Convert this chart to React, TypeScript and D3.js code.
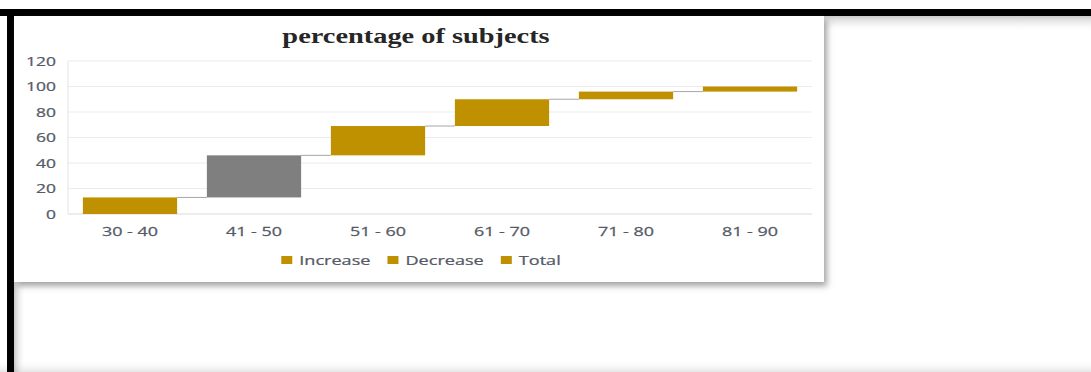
import React from "react";
import * as d3 from "d3";

// Age bands and the share of subjects each band adds to the running total
const categories: string[] = ["30 - 40", "41 - 50", "51 - 60", "61 - 70", "71 - 80", "81 - 90"];
const increments: number[] = [13, 33, 23, 21, 6, 4];
const yTicks: number[] = [0, 20, 40, 60, 80, 100, 120];
const legendLabels: string[] = ["Increase", "Decrease", "Total"];
const highlightedCategory = "41 - 50";
const chartTitle = "percentage of subjects";

const W = 1091;
const H = 372;
const GOLD = "#BF9000";
const GREY = "#7F7F7F";
const TEXT = "#555a66";
const SANS = "'Open Sans', 'Noto Sans', sans-serif";
const SERIF = "'Liberation Serif', 'DejaVu Serif', serif";
const STRETCH = 1.34;

const panel = { x: 14, y: 16, w: 810, h: 266 };
const plot = { left: 68, right: 812, top: 61, bottom: 214 };

function textWidth(text: string, font: string): number {
  const ctx = document.createElement("canvas").getContext("2d");
  if (!ctx) return text.length * 7;
  ctx.font = font;
  return ctx.measureText(text).width;
}

export default function App() {
  const x = d3.scaleBand<string>().domain(categories).range([plot.left, plot.right]).paddingInner(0.24).paddingOuter(0.12);
  const y = d3.scaleLinear().domain([0, 120]).range([plot.bottom, plot.top]);

  // running totals give each floating bar its base and top
  const tops = d3.cumsum(increments);
  const bars = categories.map((c, i) => ({
    cat: c,
    base: i === 0 ? 0 : tops[i - 1],
    top: tops[i],
  }));

  // legend laid out centred under the panel
  const legendFont = `13.5px ${SANS}`;
  const sq = 11;
  const gapSq = 7;
  const gapItem = 17;
  const items = legendLabels.map((l) => ({ label: l, w: textWidth(l, legendFont) * STRETCH }));
  const totalW = d3.sum(items, (d) => sq + gapSq + d.w) + gapItem * (items.length - 1);
  let cursor = panel.x + panel.w / 2 - totalW / 2 + 2;
  const legendItems = items.map((d) => {
    const start = cursor;
    cursor += sq + gapSq + d.w + gapItem;
    return { ...d, x: start };
  });
  const legendY = 260;

  return (
    <svg width={W} height={H} style={{ position: "absolute", left: 0, top: 0, background: "#fff" }}>
      <defs>
        <filter id="panelShadow" x="-5%" y="-5%" width="115%" height="125%">
          <feDropShadow dx="3" dy="4" stdDeviation="3" floodColor="#555" floodOpacity="0.55" />
        </filter>
        <linearGradient id="topShade" x1="0" y1="0" x2="0" y2="1">
          <stop offset="0" stopColor="#a0a0a0" stopOpacity="0.55" />
          <stop offset="1" stopColor="#ffffff" stopOpacity="0" />
        </linearGradient>
        <linearGradient id="leftShade" x1="0" y1="0" x2="1" y2="0">
          <stop offset="0" stopColor="#9a9a9a" stopOpacity="0.55" />
          <stop offset="1" stopColor="#ffffff" stopOpacity="0" />
        </linearGradient>
        <linearGradient id="bottomShade" x1="0" y1="0" x2="0" y2="1">
          <stop offset="0" stopColor="#ffffff" stopOpacity="0" />
          <stop offset="1" stopColor="#e6e6e6" stopOpacity="1" />
        </linearGradient>
      </defs>

      {/* frame */}
      <rect x={0} y={360} width={W} height={12} fill="url(#bottomShade)" />
      <rect x={14} y={16} width={W - 14} height={16} fill="url(#topShade)" />
      <rect x={14} y={16} width={12} height={H - 16} fill="url(#leftShade)" />
      <rect x={0} y={9} width={W} height={7} fill="#000" />
      <rect x={7} y={9} width={7} height={H - 9} fill="#000" />

      {/* chart panel */}
      <rect x={panel.x} y={panel.y} width={panel.w} height={panel.h} fill="#fff" filter="url(#panelShadow)" />

      <text
        transform={`translate(${panel.x + panel.w / 2 - 3},43) scale(1.29,1)`}
        textAnchor="middle"
        fontFamily={SERIF}
        fontWeight="bold"
        fontSize={22}
        fill="#262626"
      >
        {chartTitle}
      </text>

      {/* gridlines and axis */}
      {yTicks.map((t) => (
        <line key={t} x1={plot.left} x2={plot.right} y1={y(t)} y2={y(t)} stroke={t === 0 ? "#d9d9d9" : "#ebebeb"} strokeWidth={1} />
      ))}
      <line x1={plot.left} x2={plot.left} y1={y(120)} y2={y(0)} stroke="#e3e3e3" strokeWidth={1} />
      {yTicks.map((t) => (
        <text
          key={t}
          transform={`translate(56,${y(t)}) scale(${STRETCH},1)`}
          textAnchor="end"
          dy="0.35em"
          fontFamily={SANS}
          fontSize={13}
          fill={TEXT}
          stroke={TEXT}
          strokeWidth={0.25}
        >
          {t}
        </text>
      ))}

      {/* connectors */}
      {bars.slice(0, -1).map((b, i) => (
        <line
          key={b.cat}
          x1={(x(b.cat) ?? 0) + x.bandwidth()}
          x2={x(categories[i + 1]) ?? 0}
          y1={y(b.top)}
          y2={y(b.top)}
          stroke="#a6a6a6"
          strokeWidth={1}
        />
      ))}

      {/* floating bars */}
      {bars.map((b) => (
        <rect
          key={b.cat}
          x={x(b.cat)}
          y={y(b.top)}
          width={x.bandwidth()}
          height={y(b.base) - y(b.top)}
          fill={b.cat === highlightedCategory ? GREY : GOLD}
        />
      ))}

      {categories.map((c) => (
        <text
          key={c}
          transform={`translate(${(x(c) ?? 0) + x.bandwidth() / 2},236) scale(${STRETCH + 0.04},1)`}
          textAnchor="middle"
          fontFamily={SANS}
          fontSize={13}
          fill={TEXT}
          stroke={TEXT}
          strokeWidth={0.25}
        >
          {c}
        </text>
      ))}

      {/* legend */}
      {legendItems.map((d) => (
        <g key={d.label}>
          <rect x={d.x} y={legendY - 4} width={sq} height={8} fill={GOLD} />
          <text
            transform={`translate(${d.x + sq + gapSq},${legendY}) scale(${STRETCH},1)`}
            dy="0.35em"
            fontFamily={SANS}
            fontSize={13.5}
            fill={TEXT}
            stroke={TEXT}
            strokeWidth={0.25}
          >
            {d.label}
          </text>
        </g>
      ))}
    </svg>
  );
}
